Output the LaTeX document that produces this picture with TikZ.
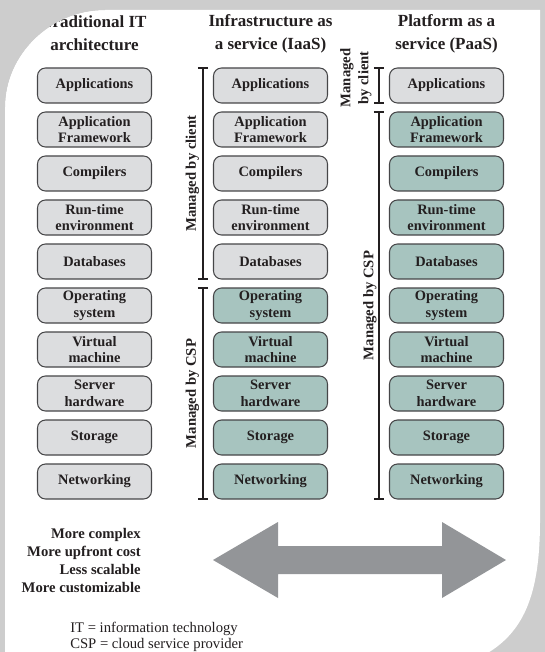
\documentclass[tikz,border=0pt]{standalone}
\usepackage{fontspec}
\setmainfont{Liberation Serif}
\usetikzlibrary{positioning,calc,arrows.meta}
\definecolor{boxgray}{RGB}{220,221,223}
\definecolor{boxteal}{RGB}{167,196,191}
\definecolor{boxline}{RGB}{70,70,72}
\definecolor{inkdark}{RGB}{35,31,32}
\definecolor{arrowgray}{RGB}{147,149,152}
\definecolor{slidegray}{RGB}{205,205,205}
\tikzstyle{tier} = [draw=boxline, line width=0.8pt, rectangle, rounded corners=6pt, fill=boxgray, minimum width=85.5pt, minimum height=26.25pt, inner sep=0pt, text centered, align=center, text=inkdark, font=\fontsize{10.8}{12.5}\selectfont\bfseries]
\tikzstyle{tiercsp} = [tier, fill=boxteal]
\tikzstyle{heading} = [align=center, text=inkdark, font=\fontsize{12.75}{17.25}\selectfont\bfseries]
\tikzstyle{bracket} = [draw=inkdark, line width=1.1pt, {Bar[width=7.5pt]}-{Bar[width=7.5pt]}]
\tikzstyle{sidenote} = [rotate=90, align=center, text=inkdark, font=\fontsize{11}{13.5}\selectfont\bfseries]
\tikzstyle{note} = [align=right, inner sep=0pt, text=inkdark, font=\fontsize{11}{13.5}\selectfont\bfseries]
\tikzstyle{legend} = [align=left, inner sep=0pt, text=inkdark, font=\fontsize{11}{12}\selectfont]

\begin{document}
\begin{tikzpicture}[x=0.75pt, y=-0.75pt, node distance=33pt]
    \useasboundingbox (0,0) rectangle (545,652);

    % Slide page behind the figure
    \fill[slidegray] (0,0) rectangle (545,652);
    \fill[white] (5,652) -- (5,107) .. controls (5,55) and (50,10) .. (105,10)
        -- (540,10) -- (540,520) .. controls (540,600) and (522,640) .. (470,662) -- cycle;

    % Place nodes
    \node[tier] (trad-app) at (94.5,85.5) {Applications};
    \node[tier, below of=trad-app] (trad-fw) {Application\\Framework};
    \node[tier, below of=trad-fw] (trad-comp) {Compilers};
    \node[tier, below of=trad-comp] (trad-rt) {Run-time\\environment};
    \node[tier, below of=trad-rt] (trad-db) {Databases};
    \node[tier, below of=trad-db] (trad-os) {Operating\\system};
    \node[tier, below of=trad-os] (trad-vm) {Virtual\\machine};
    \node[tier, below of=trad-vm] (trad-hw) {Server\\hardware};
    \node[tier, below of=trad-hw] (trad-st) {Storage};
    \node[tier, below of=trad-st] (trad-net) {Networking};

    \node[tier, right of=trad-app, node distance=132pt] (iaas-app) {Applications};
    \node[tier, below of=iaas-app] (iaas-fw) {Application\\Framework};
    \node[tier, below of=iaas-fw] (iaas-comp) {Compilers};
    \node[tier, below of=iaas-comp] (iaas-rt) {Run-time\\environment};
    \node[tier, below of=iaas-rt] (iaas-db) {Databases};
    \node[tiercsp, below of=iaas-db] (iaas-os) {Operating\\system};
    \node[tiercsp, below of=iaas-os] (iaas-vm) {Virtual\\machine};
    \node[tiercsp, below of=iaas-vm] (iaas-hw) {Server\\hardware};
    \node[tiercsp, below of=iaas-hw] (iaas-st) {Storage};
    \node[tiercsp, below of=iaas-st] (iaas-net) {Networking};

    \node[tier, right of=iaas-app, node distance=132pt] (paas-app) {Applications};
    \node[tiercsp, below of=paas-app] (paas-fw) {Application\\Framework};
    \node[tiercsp, below of=paas-fw] (paas-comp) {Compilers};
    \node[tiercsp, below of=paas-comp] (paas-rt) {Run-time\\environment};
    \node[tiercsp, below of=paas-rt] (paas-db) {Databases};
    \node[tiercsp, below of=paas-db] (paas-os) {Operating\\system};
    \node[tiercsp, below of=paas-os] (paas-vm) {Virtual\\machine};
    \node[tiercsp, below of=paas-vm] (paas-hw) {Server\\hardware};
    \node[tiercsp, below of=paas-hw] (paas-st) {Storage};
    \node[tiercsp, below of=paas-st] (paas-net) {Networking};

    % Column headings
    \node[heading, above of=trad-app, node distance=39pt] (trad-head) {Traditional IT\\architecture};
    \node[heading, above of=iaas-app, node distance=39pt] (iaas-head) {Infrastructure as\\a service (IaaS)};
    \node[heading, above of=paas-app, node distance=39pt] (paas-head) {Platform as a\\service (PaaS)};

    % Draw brackets
    \draw[bracket] ([xshift=-7.5pt]iaas-app.north west) -- ([xshift=-7.5pt]iaas-db.south west);
    \draw[bracket] ([xshift=-7.5pt]iaas-os.north west) -- ([xshift=-7.5pt]iaas-net.south west);
    \draw[bracket] ([xshift=-7.5pt]paas-app.north west) -- ([xshift=-7.5pt]paas-app.south west);
    \draw[bracket] ([xshift=-7.5pt]paas-fw.north west) -- ([xshift=-7.5pt]paas-net.south west);
    \node[sidenote] (iaas-client) at ($(iaas-app.north west)!0.5!(iaas-db.south west)+(-20.5,0)$) {Managed by client};
    \node[sidenote] (iaas-csp) at ($(iaas-os.north west)!0.5!(iaas-net.south west)+(-20.5,0)$) {Managed by CSP};
    \node[sidenote] (paas-client) at ($(paas-app.west)+(-33,-7.5)$) {Managed\\by client};
    \node[sidenote] (paas-csp) at ($(paas-fw.north west)!0.5!(paas-net.south west)+(-19,0)$) {Managed by CSP};

    % Trade-offs and the double arrow
    \node[note, anchor=east] (tradeoffs) at (141,560.5) {More complex\\More upfront cost\\Less scalable\\More customizable};
    \fill[arrowgray] (213,560) -- (278,522) -- (278,546) -- (442,546) -- (442,522) -- (506,560)
        -- (442,598) -- (442,574) -- (278,574) -- (278,598) -- cycle;

    % Abbreviations
    \node[legend, anchor=west] (abbrev) at (70,637) {IT = information technology\\CSP = cloud service provider};

    % Corner of the slide lies over the first heading
    \fill[slidegray] (0,0) -- (105,0) -- (105,10) .. controls (50,10) and (5,55) .. (5,107) -- (0,107) -- cycle;
\end{tikzpicture}
\end{document}
